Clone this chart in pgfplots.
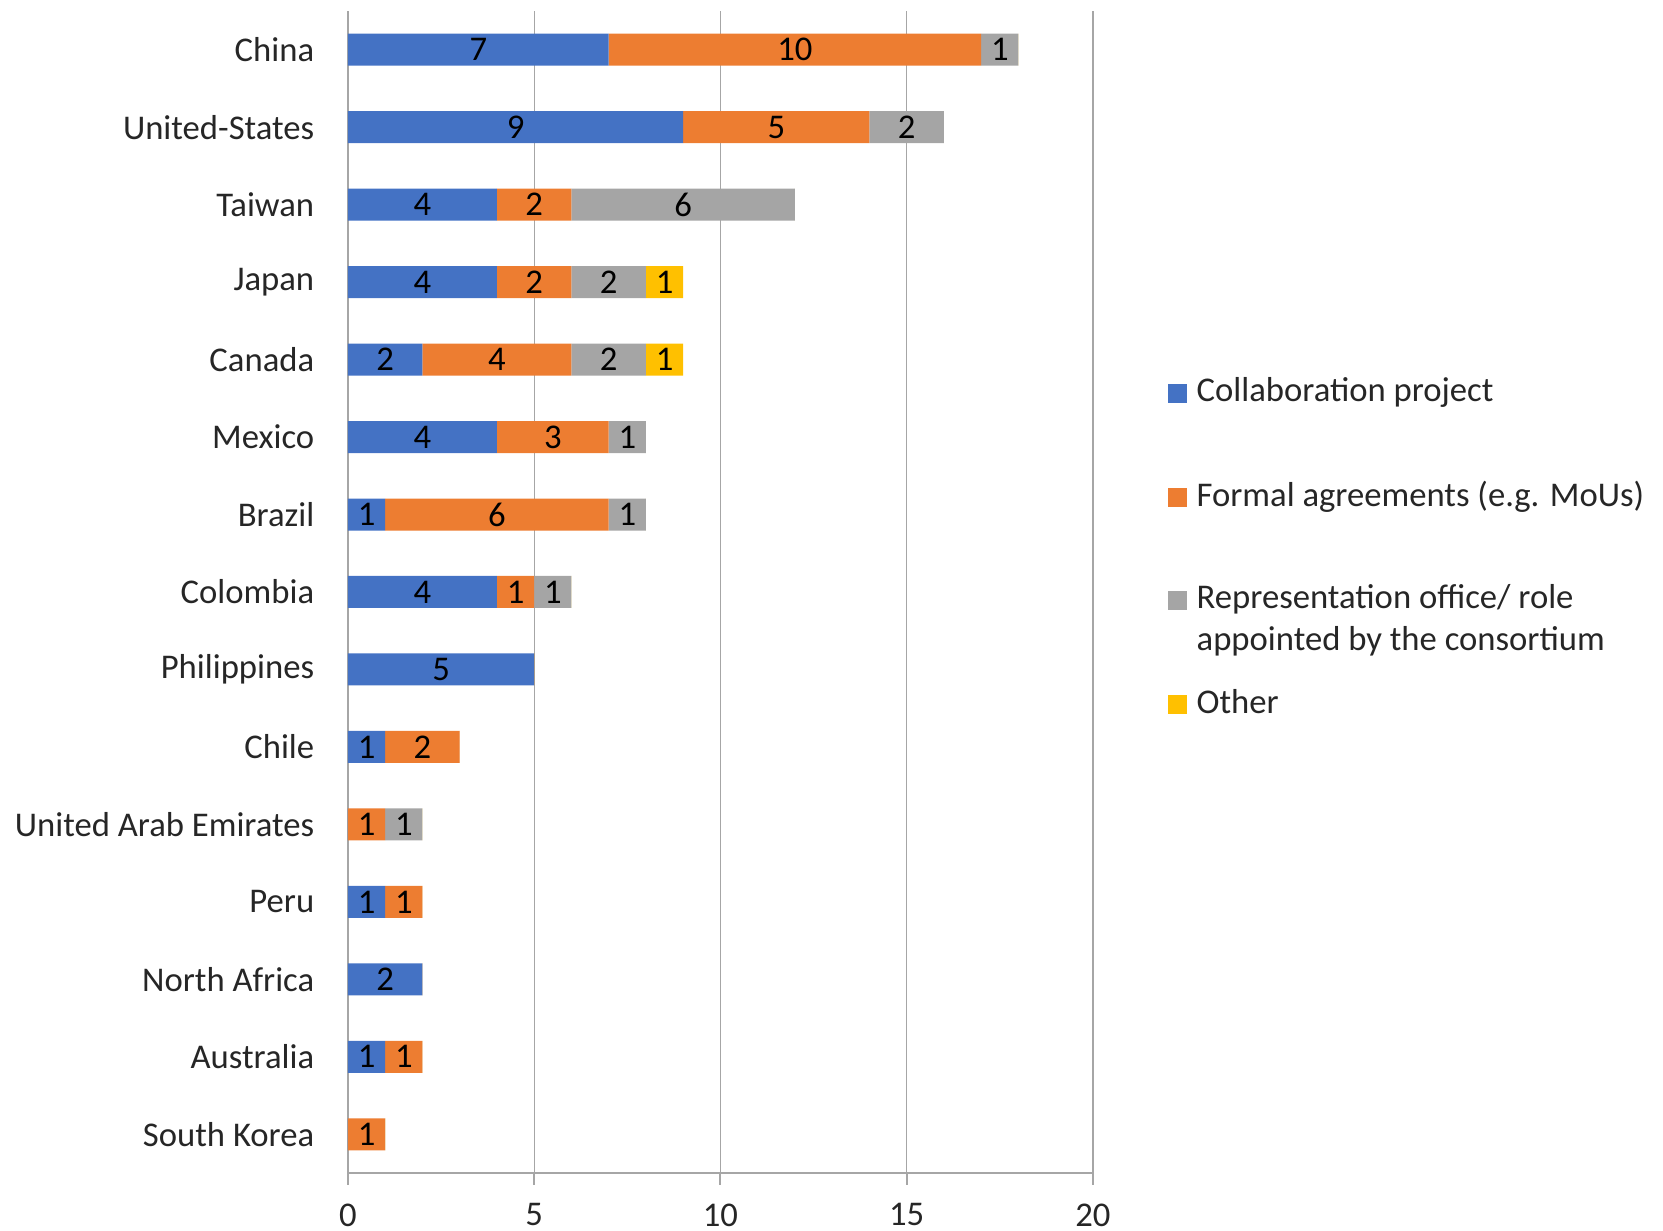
\documentclass[border=0pt]{standalone}
\usepackage{fontspec}
\setmainfont{Carlito}
\usepackage{pgfplots}
\usepackage{pgfplotstable}
\pgfplotsset{compat=1.18}

\definecolor{cblue}{HTML}{4472C4}
\definecolor{corange}{HTML}{ED7D31}
\definecolor{cgray}{HTML}{A5A5A5}
\definecolor{cgold}{HTML}{FFC000}
\definecolor{gridc}{HTML}{A6A6A6}
\definecolor{txt}{HTML}{262626}

% y: 0 = South Korea ... 14 = China
\pgfplotstableread{
y a b c d
0 0 1 0 0
1 1 1 0 0
2 2 0 0 0
3 1 1 0 0
4 0 1 1 0
5 1 2 0 0
6 5 0 0 0
7 4 1 1 0
8 1 6 1 0
9 4 3 1 0
10 2 4 2 1
11 4 2 2 1
12 4 2 6 0
13 9 5 2 0
14 7 10 1 0
}\data

\newcommand{\lblfont}{\fontsize{10.4}{12.5}\selectfont}

\begin{document}
\begin{tikzpicture}
\begin{axis}[
    name=ax,
    stack plots=x,
    bar shift=0pt,
    bar width=9.6pt,
    width=223.5pt, height=348.6pt, scale only axis,
    xmin=0, xmax=20,
    ymin=-0.5, ymax=14.5,
    xtick={0,5,10,15,20},
    ytick={0,...,14},
    yticklabels={South Korea, Australia, North Africa, Peru, United Arab Emirates,
        Chile, Philippines, Colombia, Brazil, Mexico, Canada, Japan, Taiwan,
        United-States, China},
    extra y ticks={-0.5,0.5,...,14.5},
    extra y tick labels={},
    extra y tick style={grid=none, tick style={draw=gridc, line width=0.6pt}},
    ytick style={draw=none},
    xtick style={draw=gridc, line width=0.6pt},
    tick align=outside,
    major tick length=3.6pt,
    xmajorgrids=true,
    grid style={draw=gridc, line width=0.4pt},
    axis x line*=bottom,
    axis y line*=left,
    axis line style={draw=gridc, line width=0.6pt},
    tick label style={font=\lblfont, text=txt},
    x tick label style={inner sep=0pt, yshift=-5.4pt},
    y tick label style={xshift=-3pt},
    /pgf/number format/assume math mode=true,
    clip=false,
]
\addplot[xbar, fill=cblue, draw=none] table[x=a, y=y] {\data};
\addplot[xbar, fill=corange, draw=none] table[x=b, y=y] {\data};
\addplot[xbar, fill=cgray, draw=none] table[x=c, y=y] {\data};
\addplot[xbar, fill=cgold, draw=none] table[x=d, y=y] {\data};

% segment labels at segment midpoints
\addplot[stack plots=false, sharp plot, draw=none, mark=none,
    nodes near coords, point meta=explicit symbolic,
    nodes near coords style={anchor=center, inner sep=0pt, text=black,
        font=\lblfont}]
coordinates {
    (3.5,14) [7] (12,14) [10] (17.5,14) [1]
    (4.5,13) [9] (11.5,13) [5] (15,13) [2]
    (2,12) [4] (5,12) [2] (9,12) [6]
    (2,11) [4] (5,11) [2] (7,11) [2] (8.5,11) [1]
    (1,10) [2] (4,10) [4] (7,10) [2] (8.5,10) [1]
    (2,9) [4] (5.5,9) [3] (7.5,9) [1]
    (0.5,8) [1] (4,8) [6] (7.5,8) [1]
    (2,7) [4] (4.5,7) [1] (5.5,7) [1]
    (2.5,6) [5]
    (0.5,5) [1] (2,5) [2]
    (0.5,4) [1] (1.5,4) [1]
    (0.5,3) [1] (1.5,3) [1]
    (1,2) [2]
    (0.5,1) [1] (1.5,1) [1]
    (0.5,0) [1]
};
\end{axis}

\begin{scope}[shift={(ax.south west)}, yshift=-1pt, every node/.style={anchor=base west, inner sep=0pt, text=txt, font=\lblfont}]
  \fill[cblue]   (246pt,232.1pt) rectangle ++(5.6pt,5.5pt);
  \fill[corange] (246pt,200.9pt) rectangle ++(5.6pt,5.5pt);
  \fill[cgray]   (246pt,170.0pt) rectangle ++(5.6pt,5.5pt);
  \fill[cgold]   (246pt,138.8pt) rectangle ++(5.6pt,5.5pt);
  \node at (254.4pt,232.5pt) {Collaboration project};
  \node at (254.4pt,201.0pt) {Formal agreements (e.g. MoUs)};
  \node at (254.4pt,170.4pt) {Representation office/ role};
  \node at (254.4pt,157.8pt) {appointed by the consortium};
  \node at (254.4pt,138.9pt) {Other};
\end{scope}
\begin{scope}[shift={(ax.south west)}]
  \pgfresetboundingbox
  \path[use as bounding box] (-104.4pt,-17.4pt) rectangle (394.5pt,351.9pt);
\end{scope}
\end{tikzpicture}
\end{document}
